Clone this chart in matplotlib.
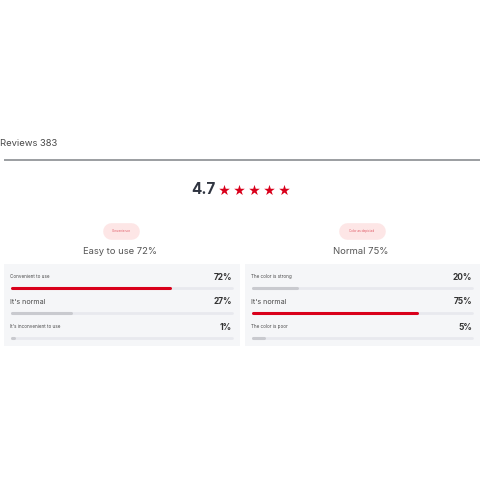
import matplotlib.pyplot as plt

plt.rcParams['font.family'] = ['Inter', 'DejaVu Sans']

reviews = 383
rating = 4.7
n_stars = 5

left_tag = "Convenience"
left_title = "Easy to use 72%"
left_labels = ["Convenient to use", "It's normal", "It's inconvenient to use"]
left_values = [72, 27, 1]

right_tag = "Color as depicted"
right_title = "Normal 75%"
right_labels = ["The color is strong", "It's normal", "The color is poor"]
right_values = [20, 75, 5]

RED = "#d9001b"
GREY_BAR = "#c9cacf"
TRACK = "#e8e9ee"
BOX = "#f5f6f8"
TXT = "#4a4a4a"

W = 487
fig = plt.figure(figsize=(4.87, 4.87), dpi=100)
ax = fig.add_axes([0, 0, 1, 1])
ax.set_xlim(0, W)
ax.set_ylim(W, 0)
ax.axis("off")

# header
ax.text(0, 143, f"Reviews {reviews}", fontsize=6.8, color=TXT, va="center", ha="left")
ax.plot([4, 480], [160, 160], color="#8a8d91", lw=1.2, solid_capstyle="butt")

ax.text(203, 190, f"{rating}", fontsize=11, fontweight="bold", color="#2f3440",
        va="center", ha="center")
ax.scatter([224 + 15 * i for i in range(n_stars)], [190] * n_stars, marker="*",
           s=65, color=RED, linewidths=0)


def panel(x0, x1, cx, tag, tag_w, title, labels, values):
    # tag pill
    ax.plot([cx - tag_w / 2 + 8, cx + tag_w / 2 - 8], [231, 231], color="#fde6e6",
            lw=12, solid_capstyle="round")
    ax.text(cx, 231, tag, fontsize=2.2, color="#e05a66", ha="center", va="center")
    ax.text(cx - 1, 252, title, fontsize=6.8, color="#555555", ha="center", va="center")
    # box
    ax.add_patch(plt.Rectangle((x0, 264), x1 - x0, 82, color=BOX, lw=0, zorder=0))
    bx0, bx1 = x0 + 8, x1 - 8
    sizes = [3.3, 5.2, 3.3]
    win = values.index(max(values))
    for i, (lab, v) in enumerate(zip(labels, values)):
        y = 276.5 + i * 25
        ax.text(x0 + 6, y, lab, fontsize=sizes[i], color=TXT, ha="left", va="center")
        ax.text(bx1, y + 0.5, f"{v}%", fontsize=6, fontweight="bold", color="#333333",
                ha="right", va="center")
        by = y + 11
        ax.plot([bx0, bx1], [by, by], color=TRACK, lw=2, solid_capstyle="round")
        col = RED if i == win else GREY_BAR
        ax.plot([bx0, bx0 + (bx1 - bx0) * v / 100], [by, by], color=col, lw=2.2,
                solid_capstyle="round")


panel(4, 240, 121, left_tag, 36, left_title, left_labels, left_values)
panel(245, 480, 362, right_tag, 46, right_title, right_labels, right_values)

fig.savefig("out.png", dpi=100)
